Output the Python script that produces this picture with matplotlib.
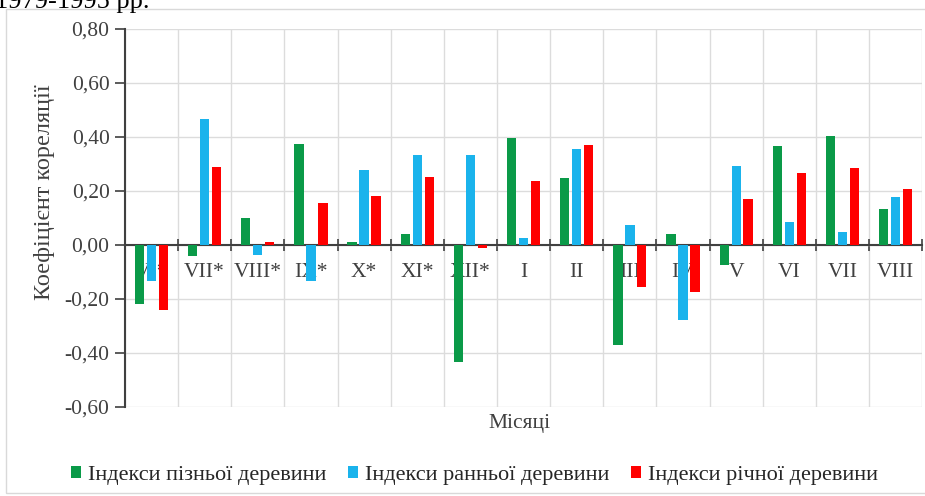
import numpy as np
import matplotlib
matplotlib.use('Agg')
import matplotlib.pyplot as plt
from matplotlib.ticker import FixedLocator, FuncFormatter
from matplotlib.patches import Rectangle

months = ['VI*', 'VII*', 'VIII*', 'IX*', 'X*', 'XI*', 'XII*',
          'I', 'II', 'III', 'IV', 'V', 'VI', 'VII', 'VIII']
late_wood = [-0.22, -0.04, 0.10, 0.375, 0.01, 0.04, -0.435,
             0.395, 0.25, -0.37, 0.042, -0.074, 0.365, 0.405, 0.135]
early_wood = [-0.135, 0.465, -0.037, -0.135, 0.276, 0.333, 0.333,
              0.025, 0.356, 0.073, -0.279, 0.293, 0.087, 0.048, 0.178]
ring_wood = [-0.24, 0.29, 0.012, 0.156, 0.18, 0.253, -0.012,
             0.238, 0.371, -0.156, -0.174, 0.17, 0.268, 0.286, 0.206]
series_names = ['Індекси пізньої деревини', 'Індекси ранньої деревини',
                'Індекси річної деревини']
colors = ['#0a9a48', '#1ab3ec', '#ff0000']

plt.rcParams['font.family'] = 'serif'
plt.rcParams['font.serif'] = ['Liberation Serif', 'DejaVu Serif']

fig = plt.figure(figsize=(9.25, 4.96), dpi=100)
ax = fig.add_axes([0.135, 0.1794, 0.862, 0.7621])

x = np.arange(len(months))
width = 0.175
step = 0.225
for k, (vals, name, col) in enumerate(zip([late_wood, early_wood, ring_wood],
                                          series_names, colors)):
    ax.bar(x + (k - 1) * step, vals, width, color=col, label=name, zorder=3)

ax.set_xlim(-0.5, len(months) - 0.5)
ax.set_ylim(-0.6, 0.8)
ax.set_yticks(np.arange(-0.6, 0.81, 0.2))
ax.yaxis.set_major_formatter(FuncFormatter(lambda v, p: f'{v:.2f}'.replace('.', ',').replace('-0,00', '0,00')))
ax.tick_params(axis='y', direction='out', length=7, width=1.2, color='#404040',
               labelsize=15.5, labelcolor='#404040', pad=4)

# zero axis with crossing ticks between categories
ax.spines['bottom'].set_position(('data', 0))
ax.spines['bottom'].set_color('#404040')
ax.spines['bottom'].set_linewidth(1.5)
ax.spines['left'].set_color('#404040')
ax.spines['left'].set_linewidth(1.5)
ax.spines['top'].set_visible(False)
ax.spines['right'].set_visible(False)
ax.set_xticks(x)
ax.set_xticklabels(months)
ax.xaxis.set_minor_locator(FixedLocator(np.arange(-0.5, len(months), 1.0)))
ax.tick_params(axis='x', which='major', length=0, labelsize=15.5,
               labelcolor='#404040', pad=13)
ax.tick_params(axis='x', which='minor', direction='inout', length=9,
               width=1.2, color='#404040')

ax.grid(True, axis='y', color='#dcdcdc', lw=1, zorder=0)
ax.grid(True, axis='x', which='minor', color='#dcdcdc', lw=1, zorder=0)
ax.set_axisbelow(True)

ax.set_ylabel('Коефіцієнт кореляції', fontsize=17.5, color='#404040')
ax.yaxis.set_label_coords(-0.088, 0.569)
fig.text(0.562, 0.147, 'Місяці', fontsize=15.5, color='#404040', ha='center', va='center')

fig.legend(loc='center', bbox_to_anchor=(0.513, 0.042), ncol=3,
           frameon=False, fontsize=16, handlelength=0.45, handleheight=0.45,
           handletextpad=0.3, columnspacing=1.0, labelcolor='#262626')

fig.text(-0.005, 0.984, '1979-1995 рр.', fontsize=19, va='baseline', ha='left')
fig.patches.append(Rectangle((0.006, 0.006), 1.2, 0.976, transform=fig.transFigure,
                             fill=False, edgecolor='#d9d9d9', lw=1))

fig.savefig('out.png', dpi=100)
